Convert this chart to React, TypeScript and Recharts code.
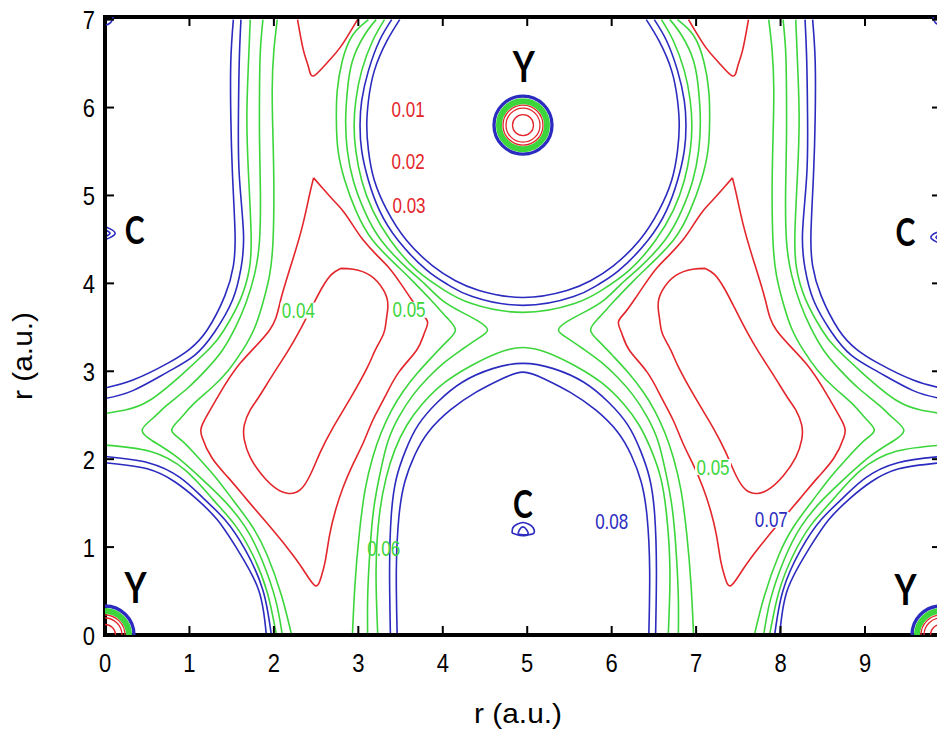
import React from 'react';
import { LineChart, Line, XAxis, YAxis, ReferenceDot } from 'recharts';

type Pt = [number, number];

const X_DOMAIN: [number, number] = [0, 9.9];
const Y_DOMAIN: [number, number] = [0, 7.03];
const X_TICKS = [0, 1, 2, 3, 4, 5, 6, 7, 8, 9];
const Y_TICKS = [0, 1, 2, 3, 4, 5, 6, 7];

const RED = '#e3262b';
const GREEN = '#3cd63c';
const BLUE = '#2b2bbf';
const levelColor = (v: number) => (v <= 0.03 ? RED : v <= 0.06 ? GREEN : BLUE);

// ---- shells around the upper Y site ----
const yTop08: Pt[] = [[3.49,7.0],[3.34,6.76],[3.19,6.42],[3.12,6.08],[3.10,5.80],[3.12,5.51],[3.19,5.17],[3.34,4.83],[3.57,4.49],[3.88,4.20],[4.15,4.03],[4.43,3.92],[4.95,3.84],[5.47,3.92],[5.75,4.03],[6.02,4.20],[6.33,4.49],[6.56,4.83],[6.71,5.17],[6.78,5.51],[6.80,5.80],[6.78,6.08],[6.71,6.42],[6.56,6.76],[6.41,7.0]];
const yTop07: Pt[] = [[3.395,7.0],[3.25,6.76],[3.12,6.42],[3.04,6.08],[3.02,5.80],[3.04,5.51],[3.12,5.17],[3.25,4.83],[3.47,4.49],[3.81,4.15],[4.07,3.98],[4.35,3.85],[4.95,3.75],[5.55,3.85],[5.83,3.98],[6.09,4.15],[6.43,4.49],[6.65,4.83],[6.78,5.17],[6.86,5.51],[6.88,5.80],[6.86,6.08],[6.78,6.42],[6.65,6.76],[6.505,7.0]];
const yTop06: Pt[] = [[3.31,7.0],[3.17,6.76],[3.04,6.42],[2.97,6.08],[2.95,5.80],[2.97,5.51],[3.04,5.17],[3.17,4.83],[3.38,4.49],[3.69,4.15],[4.02,3.92],[4.34,3.77],[4.95,3.67],[5.56,3.77],[5.88,3.92],[6.21,4.15],[6.52,4.49],[6.73,4.83],[6.86,5.17],[6.93,5.51],[6.95,5.80],[6.93,6.08],[6.86,6.42],[6.73,6.76],[6.59,7.0]];

// ---- arch around the lower C site ----
const cArch08: Pt[] = [[3.46,0],[3.45,0.74],[3.48,1.34],[3.55,1.74],[3.67,2.05],[3.83,2.31],[4.09,2.56],[4.39,2.76],[4.69,2.91],[4.95,2.99],[5.21,2.91],[5.51,2.76],[5.81,2.56],[6.07,2.31],[6.23,2.05],[6.35,1.74],[6.42,1.34],[6.45,0.74],[6.44,0]];
const cArch07: Pt[] = [[3.38,0],[3.37,0.74],[3.39,1.36],[3.45,1.78],[3.56,2.10],[3.71,2.39],[3.94,2.65],[4.23,2.875],[4.59,3.03],[4.95,3.09],[5.31,3.03],[5.67,2.875],[5.96,2.65],[6.19,2.39],[6.34,2.10],[6.45,1.78],[6.51,1.36],[6.53,0.74],[6.52,0]];
const cArch06: Pt[] = [[3.23,0],[3.21,0.74],[3.25,1.37],[3.33,1.79],[3.43,2.10],[3.57,2.38],[3.76,2.63],[4.02,2.87],[4.33,3.06],[4.63,3.20],[4.95,3.27],[5.27,3.20],[5.57,3.06],[5.88,2.87],[6.14,2.63],[6.33,2.38],[6.47,2.10],[6.58,1.79],[6.65,1.37],[6.69,0.74],[6.67,0]];

// ---- central saddle branches ----
const saddle05L: Pt[] = [[3.21,7.0],[3.07,6.82],[2.93,6.53],[2.87,6.19],[2.85,5.85],[2.87,5.51],[2.94,5.17],[3.07,4.83],[3.27,4.49],[3.57,4.18],[3.78,4.0],[3.99,3.81],[4.23,3.67],[4.42,3.57],[4.53,3.47],[4.42,3.375],[4.23,3.25],[4.02,3.10],[3.82,2.92],[3.64,2.72],[3.48,2.48],[3.35,2.20],[3.26,1.85],[3.18,1.42],[3.13,0.85],[3.11,0.40],[3.11,0]];
const saddle05R: Pt[] = [[6.69,7.0],[6.83,6.82],[6.97,6.53],[7.03,6.19],[7.05,5.85],[7.03,5.51],[6.96,5.17],[6.83,4.83],[6.63,4.49],[6.33,4.18],[6.12,4.0],[5.91,3.81],[5.67,3.67],[5.48,3.57],[5.37,3.47],[5.48,3.375],[5.67,3.25],[5.88,3.10],[6.08,2.92],[6.26,2.72],[6.42,2.48],[6.55,2.20],[6.64,1.85],[6.72,1.42],[6.77,0.85],[6.79,0.40],[6.79,0]];
const saddle04L: Pt[] = [[3.12,7.0],[2.93,6.82],[2.81,6.53],[2.75,6.19],[2.74,5.85],[2.76,5.51],[2.84,5.17],[2.97,4.83],[3.17,4.49],[3.48,4.18],[3.67,4.0],[3.86,3.81],[4.05,3.61],[4.15,3.47],[4.05,3.34],[3.88,3.17],[3.70,2.98],[3.53,2.77],[3.39,2.55],[3.27,2.30],[3.17,2.02],[3.08,1.65],[3.01,1.14],[2.96,0.57],[2.93,0]];
const saddle04R: Pt[] = [[6.78,7.0],[6.97,6.82],[7.09,6.53],[7.15,6.19],[7.16,5.85],[7.14,5.51],[7.06,5.17],[6.93,4.83],[6.73,4.49],[6.42,4.18],[6.23,4.0],[6.04,3.81],[5.85,3.61],[5.75,3.47],[5.85,3.34],[6.02,3.17],[6.20,2.98],[6.37,2.77],[6.51,2.55],[6.63,2.30],[6.73,2.02],[6.82,1.65],[6.89,1.14],[6.94,0.57],[6.97,0]];

// ---- shells around the C sites on the cell edges ----
const edgeC08L: Pt[] = [[1.52,7.0],[1.49,6.53],[1.49,5.89],[1.51,5.23],[1.54,4.57],[1.52,4.20],[1.42,3.86],[1.21,3.47],[1.00,3.25],[0.74,3.09],[0.33,2.90],[0,2.81]];
const edgeC07L: Pt[] = [[1.61,7.0],[1.59,6.53],[1.58,5.89],[1.59,5.23],[1.64,4.57],[1.61,4.17],[1.51,3.81],[1.30,3.45],[1.06,3.18],[0.74,2.99],[0.33,2.78],[0,2.69]];
const edgeC06L: Pt[] = [[1.72,7.0],[1.70,6.53],[1.68,5.89],[1.70,5.23],[1.73,4.57],[1.71,4.17],[1.60,3.81],[1.41,3.47],[1.25,3.27],[0.93,2.98],[0.53,2.67],[0.24,2.56],[0,2.52]];
const edgeC08R: Pt[] = [[8.38,7.0],[8.41,6.53],[8.41,5.89],[8.39,5.23],[8.36,4.57],[8.38,4.20],[8.48,3.86],[8.69,3.47],[8.90,3.25],[9.16,3.09],[9.57,2.90],[9.9,2.81]];
const edgeC07R: Pt[] = [[8.29,7.0],[8.31,6.53],[8.32,5.89],[8.31,5.23],[8.26,4.57],[8.29,4.17],[8.39,3.81],[8.60,3.45],[8.84,3.18],[9.16,2.99],[9.57,2.78],[9.9,2.69]];
const edgeC06R: Pt[] = [[8.18,7.0],[8.20,6.53],[8.22,5.89],[8.20,5.23],[8.17,4.57],[8.19,4.17],[8.30,3.81],[8.49,3.47],[8.65,3.27],[8.97,2.98],[9.37,2.67],[9.66,2.56],[9.9,2.52]];

// ---- saddle branches on the cell edges ----
const edge05L: Pt[] = [[1.87,7.0],[1.84,6.65],[1.83,6.20],[1.83,5.63],[1.84,5.06],[1.83,4.49],[1.77,4.10],[1.67,3.78],[1.54,3.49],[1.39,3.24],[1.21,3.03],[0.98,2.81],[0.74,2.62],[0.56,2.46],[0.44,2.33],[0.56,2.21],[0.83,2.04],[1.13,1.79],[1.40,1.54],[1.66,1.23],[1.86,0.85],[2.02,0.40],[2.10,0]];
const edge04L: Pt[] = [[2.04,7.0],[2.00,6.65],[1.98,6.20],[1.99,5.63],[2.00,5.06],[1.99,4.49],[1.95,4.10],[1.87,3.78],[1.77,3.49],[1.63,3.24],[1.46,3.01],[1.26,2.81],[1.04,2.62],[0.89,2.46],[0.79,2.33],[0.91,2.21],[1.13,1.99],[1.33,1.77],[1.52,1.53],[1.74,1.24],[1.92,0.91],[2.09,0.45],[2.21,0]];
const edge05R: Pt[] = [[8.03,7.0],[8.06,6.65],[8.07,6.20],[8.07,5.63],[8.06,5.06],[8.07,4.49],[8.13,4.10],[8.23,3.78],[8.36,3.49],[8.51,3.24],[8.69,3.03],[8.92,2.81],[9.16,2.62],[9.34,2.46],[9.46,2.33],[9.34,2.21],[9.07,2.04],[8.77,1.79],[8.50,1.54],[8.24,1.23],[8.04,0.85],[7.88,0.40],[7.80,0]];
const edge04R: Pt[] = [[7.86,7.0],[7.90,6.65],[7.92,6.20],[7.91,5.63],[7.90,5.06],[7.91,4.49],[7.95,4.10],[8.03,3.78],[8.13,3.49],[8.27,3.24],[8.44,3.01],[8.64,2.81],[8.86,2.62],[9.01,2.46],[9.11,2.33],[8.99,2.21],[8.77,1.99],[8.57,1.77],[8.38,1.53],[8.16,1.24],[7.98,0.91],[7.81,0.45],[7.69,0]];

// ---- shells around the corner Y sites ----
const yCorner08L: Pt[] = [[0,1.96],[0.50,1.89],[0.83,1.74],[1.07,1.56],[1.33,1.31],[1.57,0.97],[1.82,0.51],[1.91,0]];
const yCorner07L: Pt[] = [[0,2.03],[0.51,1.96],[0.89,1.79],[1.16,1.56],[1.42,1.31],[1.66,0.97],[1.87,0.51],[1.97,0]];
const yCorner06L: Pt[] = [[0,2.16],[0.53,2.09],[0.95,1.875],[1.28,1.54],[1.54,1.25],[1.75,0.91],[1.92,0.49],[2.03,0]];
const yCorner08R: Pt[] = [[9.9,1.96],[9.40,1.89],[9.07,1.74],[8.83,1.56],[8.57,1.31],[8.33,0.97],[8.08,0.51],[7.99,0]];
const yCorner07R: Pt[] = [[9.9,2.03],[9.39,1.96],[9.01,1.79],[8.74,1.56],[8.48,1.31],[8.24,0.97],[8.03,0.51],[7.93,0]];
const yCorner06R: Pt[] = [[9.9,2.16],[9.37,2.09],[8.95,1.875],[8.62,1.54],[8.36,1.25],[8.15,0.91],[7.98,0.49],[7.87,0]];

// ---- low-density pockets ----
const pocketInnerL: Pt[] = [[2.79,4.17],[2.94,4.16],[3.14,4.09],[3.30,3.92],[3.35,3.75],[3.33,3.58],[3.30,3.43],[3.20,3.24],[3.11,3.05],[2.91,2.70],[2.70,2.36],[2.55,2.08],[2.43,1.82],[2.31,1.65],[2.17,1.61],[2.02,1.67],[1.86,1.82],[1.72,2.02],[1.65,2.22],[1.65,2.39],[1.72,2.56],[1.81,2.69],[1.98,2.95],[2.16,3.22],[2.31,3.47],[2.46,3.75],[2.57,3.95],[2.68,4.10],[2.79,4.17]];
const pocketOuterL: Pt[] = [[2.47,5.20],[2.58,5.08],[2.71,4.94],[2.83,4.81],[2.95,4.64],[3.06,4.49],[3.21,4.33],[3.36,4.18],[3.50,4.0],[3.62,3.83],[3.74,3.67],[3.82,3.56],[3.78,3.43],[3.69,3.24],[3.48,2.99],[3.31,2.70],[3.17,2.44],[3.06,2.19],[2.93,1.93],[2.82,1.68],[2.73,1.42],[2.66,1.14],[2.61,0.85],[2.56,0.66],[2.49,0.56],[2.35,0.74],[2.16,0.99],[1.92,1.27],[1.68,1.54],[1.46,1.79],[1.27,2.01],[1.15,2.25],[1.16,2.41],[1.33,2.70],[1.60,3.09],[1.95,3.47],[2.08,3.81],[2.22,4.26],[2.34,4.66],[2.42,5.0],[2.47,5.20]];
const pocketTipL: Pt[] = [[2.28,7.0],[2.35,6.65],[2.41,6.46],[2.47,6.36],[2.63,6.51],[2.79,6.69],[2.99,7.0]];
const pocketInnerR: Pt[] = [[7.11,4.17],[6.96,4.16],[6.76,4.09],[6.60,3.92],[6.55,3.75],[6.57,3.58],[6.60,3.43],[6.70,3.24],[6.79,3.05],[6.99,2.70],[7.20,2.36],[7.35,2.08],[7.47,1.82],[7.59,1.65],[7.73,1.61],[7.88,1.67],[8.04,1.82],[8.18,2.02],[8.25,2.22],[8.25,2.39],[8.18,2.56],[8.09,2.69],[7.92,2.95],[7.74,3.22],[7.59,3.47],[7.44,3.75],[7.33,3.95],[7.22,4.10],[7.11,4.17]];
const pocketOuterR: Pt[] = [[7.43,5.20],[7.32,5.08],[7.19,4.94],[7.07,4.81],[6.95,4.64],[6.84,4.49],[6.69,4.33],[6.54,4.18],[6.40,4.0],[6.28,3.83],[6.16,3.67],[6.08,3.56],[6.12,3.43],[6.21,3.24],[6.42,2.99],[6.59,2.70],[6.73,2.44],[6.84,2.19],[6.97,1.93],[7.08,1.68],[7.17,1.42],[7.24,1.14],[7.29,0.85],[7.34,0.66],[7.41,0.56],[7.55,0.74],[7.74,0.99],[7.98,1.27],[8.22,1.54],[8.44,1.79],[8.63,2.01],[8.75,2.25],[8.74,2.41],[8.57,2.70],[8.30,3.09],[7.95,3.47],[7.82,3.81],[7.68,4.26],[7.56,4.66],[7.48,5.0],[7.43,5.20]];
const pocketTipR: Pt[] = [[7.62,7.0],[7.55,6.65],[7.49,6.46],[7.43,6.36],[7.27,6.51],[7.11,6.69],[6.91,7.0]];

// ---- small C cores ----
const cCoreOuter: Pt[] = [[4.82,1.16],[4.83,1.22],[4.88,1.26],[4.95,1.28],[5.02,1.26],[5.07,1.22],[5.08,1.16],[5.02,1.14],[4.95,1.13],[4.88,1.14],[4.82,1.16]];
const cCoreInner: Pt[] = [[4.89,1.15],[4.91,1.20],[4.95,1.23],[4.99,1.20],[5.01,1.15],[4.95,1.14],[4.89,1.15]];
const cEdgeOuterL: Pt[] = [[0,4.645],[0.06,4.62],[0.12,4.57],[0.06,4.52],[0,4.495]];
const cEdgeInnerL: Pt[] = [[0,4.61],[0.03,4.595],[0.06,4.57],[0.03,4.545],[0,4.53]];
const cEdgeOuterR: Pt[] = [[9.9,4.60],[9.84,4.575],[9.78,4.525],[9.84,4.475],[9.9,4.45]];
const cEdgeInnerR: Pt[] = [[9.9,4.565],[9.87,4.55],[9.84,4.525],[9.87,4.50],[9.9,4.485]];

const contours: { id: string; level: number; pts: Pt[] }[] = [
  { id: 'yTop08', level: 0.08, pts: yTop08 },
  { id: 'yTop07', level: 0.07, pts: yTop07 },
  { id: 'yTop06', level: 0.06, pts: yTop06 },
  { id: 'cArch08', level: 0.08, pts: cArch08 },
  { id: 'cArch07', level: 0.07, pts: cArch07 },
  { id: 'cArch06', level: 0.06, pts: cArch06 },
  { id: 'saddle05L', level: 0.05, pts: saddle05L },
  { id: 'saddle05R', level: 0.05, pts: saddle05R },
  { id: 'saddle04L', level: 0.04, pts: saddle04L },
  { id: 'saddle04R', level: 0.04, pts: saddle04R },
  { id: 'edgeC08L', level: 0.08, pts: edgeC08L },
  { id: 'edgeC07L', level: 0.07, pts: edgeC07L },
  { id: 'edgeC06L', level: 0.06, pts: edgeC06L },
  { id: 'edgeC08R', level: 0.08, pts: edgeC08R },
  { id: 'edgeC07R', level: 0.07, pts: edgeC07R },
  { id: 'edgeC06R', level: 0.06, pts: edgeC06R },
  { id: 'edge05L', level: 0.05, pts: edge05L },
  { id: 'edge04L', level: 0.04, pts: edge04L },
  { id: 'edge05R', level: 0.05, pts: edge05R },
  { id: 'edge04R', level: 0.04, pts: edge04R },
  { id: 'yCorner08L', level: 0.08, pts: yCorner08L },
  { id: 'yCorner07L', level: 0.07, pts: yCorner07L },
  { id: 'yCorner06L', level: 0.06, pts: yCorner06L },
  { id: 'yCorner08R', level: 0.08, pts: yCorner08R },
  { id: 'yCorner07R', level: 0.07, pts: yCorner07R },
  { id: 'yCorner06R', level: 0.06, pts: yCorner06R },
  { id: 'pocketInnerL', level: 0.02, pts: pocketInnerL },
  { id: 'pocketOuterL', level: 0.03, pts: pocketOuterL },
  { id: 'pocketTipL', level: 0.03, pts: pocketTipL },
  { id: 'pocketInnerR', level: 0.02, pts: pocketInnerR },
  { id: 'pocketOuterR', level: 0.03, pts: pocketOuterR },
  { id: 'pocketTipR', level: 0.03, pts: pocketTipR },
  { id: 'cCoreOuter', level: 0.08, pts: cCoreOuter },
  { id: 'cCoreInner', level: 0.08, pts: cCoreInner },
  { id: 'cEdgeOuterL', level: 0.08, pts: cEdgeOuterL },
  { id: 'cEdgeInnerL', level: 0.08, pts: cEdgeInnerL },
  { id: 'cEdgeOuterR', level: 0.08, pts: cEdgeOuterR },
  { id: 'cEdgeInnerR', level: 0.08, pts: cEdgeInnerR },
];

// Y sites whose tight core shells are drawn as rings
const ySites: Pt[] = [[4.95, 5.80], [0, 0], [9.9, 0]];
const coreRings = [
  { r: 29, color: BLUE, w: 3.3 },
  { r: 24, color: GREEN, w: 6 },
  { r: 20, color: RED, w: 1.3 },
  { r: 17, color: RED, w: 1.3 },
  { r: 10.5, color: RED, w: 1.3 },
];
const cornerTops: Pt[] = [[0, 7.03], [9.9, 7.03]];

// level labels placed on the map
const levelTags = [
  { value: 0.01, x: 3.59, y: 5.98, gap: false },
  { value: 0.02, x: 3.59, y: 5.39, gap: false },
  { value: 0.03, x: 3.60, y: 4.89, gap: false },
  { value: 0.04, x: 2.29, y: 3.69, gap: true },
  { value: 0.05, x: 3.60, y: 3.70, gap: true },
  { value: 0.06, x: 3.30, y: 0.99, gap: false },
  { value: 0.05, x: 7.20, y: 1.91, gap: true },
  { value: 0.08, x: 6.00, y: 1.29, gap: false },
  { value: 0.07, x: 7.89, y: 1.31, gap: true },
];

const atomTags = [
  { name: 'Y', x: 4.96, y: 6.47, size: 34 },
  { name: 'Y', x: 0.36, y: 0.54, size: 34 },
  { name: 'Y', x: 9.48, y: 0.52, size: 34 },
  { name: 'C', x: 0.35, y: 4.60, size: 30 },
  { name: 'C', x: 9.48, y: 4.58, size: 30 },
  { name: 'C', x: 4.95, y: 1.49, size: 30 },
];

const AXIS_FONT = "'Liberation Sans', Arial, sans-serif";
const ATOM_FONT = "Lato, 'Open Sans', sans-serif";

function StretchText(props: {
  x: number; cy: number; size: number; children: React.ReactNode;
  anchor?: 'start' | 'middle' | 'end'; sx?: number; sy?: number; fill?: string; family?: string; weight?: number;
}) {
  const { x, cy, size, children, anchor = 'middle', sx = 1, sy = 1.3, fill = '#000', family = AXIS_FONT, weight = 400 } = props;
  const base = cy + 0.36 * size * sy;
  return (
    <g transform={`translate(${x},${base}) scale(${sx},${sy})`}>
      <text x={0} y={0} textAnchor={anchor} fontSize={size} fontFamily={family} fontWeight={weight} fill={fill}>
        {children}
      </text>
    </g>
  );
}

const TICK_LEN = 9;

const BottomTick = (p: any) => (
  <g>
    <line x1={p.x} y1={p.y} x2={p.x} y2={p.y - TICK_LEN} stroke="#000" strokeWidth={2} />
    <StretchText x={p.x} cy={p.y + 27} size={22} sy={1.2}>{p.payload.value}</StretchText>
  </g>
);
const TopTick = (p: any) => (
  <line x1={p.x} y1={p.y} x2={p.x} y2={p.y + TICK_LEN} stroke="#000" strokeWidth={2} />
);
const LeftTick = (p: any) => (
  <g>
    <line x1={p.x} y1={p.y} x2={p.x + TICK_LEN} y2={p.y} stroke="#000" strokeWidth={2} />
    <StretchText x={p.x - 10} cy={p.y} size={22} sy={1.2} anchor="end">{p.payload.value}</StretchText>
  </g>
);
const RightTick = (p: any) => (
  <line x1={p.x} y1={p.y} x2={p.x - TICK_LEN} y2={p.y} stroke="#000" strokeWidth={2} />
);

const XTitle = (p: any) => {
  const vb = p.viewBox || { x: 105, y: 635 };
  return <StretchText x={vb.x + 413} cy={vb.y + 78} size={26} sx={1.15} sy={1.05}>r (a.u.)</StretchText>;
};
const YTitle = () => (
  <g transform="translate(22,356) rotate(-90)">
    <StretchText x={0} cy={0} size={26} sx={1.15} sy={1.05}>r (a.u.)</StretchText>
  </g>
);

const frame = { stroke: '#000', strokeWidth: 4, strokeLinecap: 'square' as const };

export default function App() {
  return (
    <div style={{ position: 'fixed', left: 0, top: 0, width: 937, height: 729, overflow: 'hidden', background: '#fff' }}>
      <LineChart width={946} height={729} margin={{ top: 16, right: 4, bottom: 0, left: 0 }}>
        <XAxis
          dataKey="x" type="number" domain={X_DOMAIN} ticks={X_TICKS} interval={0} allowDataOverflow
          height={94} tickLine={false} tickSize={0} tickMargin={0} axisLine={frame} tick={BottomTick}
          label={{ content: XTitle }}
        />
        <XAxis
          xAxisId="top" orientation="top" dataKey="x" type="number" domain={X_DOMAIN} ticks={X_TICKS}
          interval={0} allowDataOverflow height={1} tickLine={false} tickSize={0} tickMargin={0}
          axisLine={frame} tick={TopTick}
        />
        <YAxis
          dataKey="y" type="number" domain={Y_DOMAIN} ticks={Y_TICKS} interval={0} allowDataOverflow
          width={105} tickLine={false} tickSize={0} tickMargin={0} axisLine={frame} tick={LeftTick}
          label={{ content: YTitle }}
        />
        <YAxis
          yAxisId="right" orientation="right" dataKey="y" type="number" domain={Y_DOMAIN} ticks={Y_TICKS}
          interval={0} allowDataOverflow width={1} tickLine={false} tickSize={0} tickMargin={0}
          axisLine={frame} tick={RightTick}
        />
        {contours.map((c) => (
          <Line
            key={c.id}
            data={c.pts.map(([x, y]) => ({ x, y }))}
            dataKey="y"
            type="natural"
            stroke={levelColor(c.level)}
            strokeWidth={1.6}
            dot={false}
            activeDot={false}
            isAnimationActive={false}
          />
        ))}
        {ySites.flatMap(([sx, sy], i) =>
          coreRings.map((ring, j) => (
            <ReferenceDot
              key={`ring-${i}-${j}`} x={sx} y={sy} r={ring.r} fill="none"
              stroke={ring.color} strokeWidth={ring.w} ifOverflow="hidden"
            />
          ))
        )}
        {cornerTops.map(([cx, cy], i) => (
          <ReferenceDot key={`top-${i}`} x={cx} y={cy} r={8} fill="none" stroke={BLUE} strokeWidth={1.6} ifOverflow="hidden" />
        ))}
        {levelTags.map((t, i) => (
          <ReferenceDot
            key={`lvl-${i}`} x={t.x} y={t.y} r={1} ifOverflow="visible"
            shape={(p: any) => (
              <g>
                {t.gap && <rect x={p.cx - 18} y={p.cy - 8} width={36} height={16} fill="#fff" />}
                <StretchText x={p.cx} cy={p.cy} size={17} sy={1.25} fill={levelColor(t.value)}>
                  {t.value.toFixed(2)}
                </StretchText>
              </g>
            )}
          />
        ))}
        {atomTags.map((a, i) => (
          <ReferenceDot
            key={`atom-${i}`} x={a.x} y={a.y} r={1} ifOverflow="visible"
            shape={(p: any) => (
              <StretchText x={p.cx} cy={p.cy} size={a.size} sy={1.25} weight={700} family={ATOM_FONT}>
                {a.name}
              </StretchText>
            )}
          />
        ))}
      </LineChart>
    </div>
  );
}
